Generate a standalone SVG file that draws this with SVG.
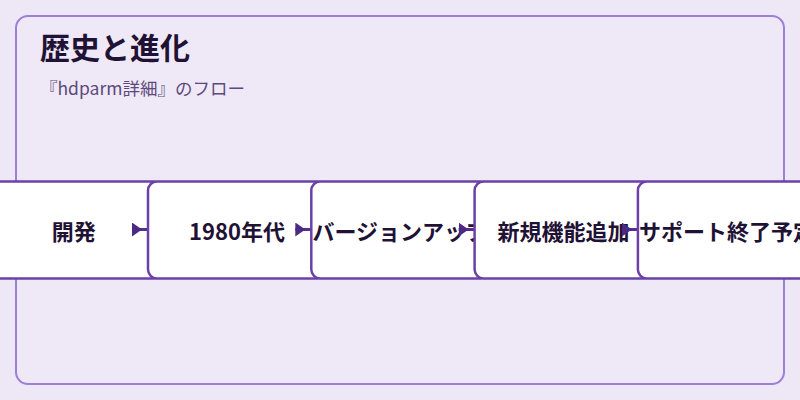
<svg xmlns="http://www.w3.org/2000/svg" width="800" height="400" viewBox="0 0 800 400">
<defs>
<style>
.node rect{fill:#ffffff;stroke:#6b41a8;stroke-width:2.5}
.node text{font-family:"Noto Sans CJK JP","Noto Sans",sans-serif;font-size:22px;font-weight:700;fill:#1f1235;text-anchor:middle}
.edge{stroke:#55308f;stroke-width:3;fill:none;marker-end:url(#arr)}
</style>
<marker id="arr" markerUnits="userSpaceOnUse" markerWidth="10" markerHeight="14" viewBox="0 0 10 14" refX="16" refY="7" orient="auto">
<path d="M0,0 L10,7 L0,14 Z" fill="#4b2a85"/>
</marker>
</defs>
<rect x="0" y="0" width="800" height="400" fill="#ede7f6"/>
<rect x="16" y="16" width="768" height="368" rx="12" fill="#efe8f7" stroke="#9d80d3" stroke-width="2"/>
<text x="40" y="59" font-family="'Noto Sans CJK JP','Noto Sans',sans-serif" font-size="30" font-weight="700" fill="#1f1235">歴史と進化</text>
<text x="40" y="95" font-family="'Noto Sans CJK JP','Noto Sans',sans-serif" font-size="17.5" fill="#5b4a7a">『hdparm詳細』のフロー</text>
<g id="n1" class="node"><rect x="-15.3" y="181.5" width="178" height="97" rx="9"/><text x="73.7" y="240">開発</text></g>
<g id="e1g"><line class="edge" x1="132" y1="229.5" x2="148" y2="229.5"/></g>
<g id="n2" class="node"><rect x="148" y="181.5" width="178" height="97" rx="9"/><text x="237" y="240">1980年代</text></g>
<g id="e2g"><line class="edge" x1="295.3" y1="229.5" x2="311.3" y2="229.5"/></g>
<g id="n3" class="node"><rect x="311.3" y="181.5" width="178" height="97" rx="9"/><text x="400.3" y="240">バージョンアップ</text></g>
<g id="e3g"><line class="edge" x1="458.6" y1="229.5" x2="474.6" y2="229.5"/></g>
<g id="n4" class="node"><rect x="474.6" y="181.5" width="178" height="97" rx="9"/><text x="563.6" y="240">新規機能追加</text></g>
<g id="e4g"><line class="edge" x1="621.9" y1="229.5" x2="637.9" y2="229.5"/></g>
<g id="n5" class="node"><rect x="637.9" y="181.5" width="178" height="97" rx="9"/><text x="726.9" y="240">サポート終了予定</text></g>
</svg>
